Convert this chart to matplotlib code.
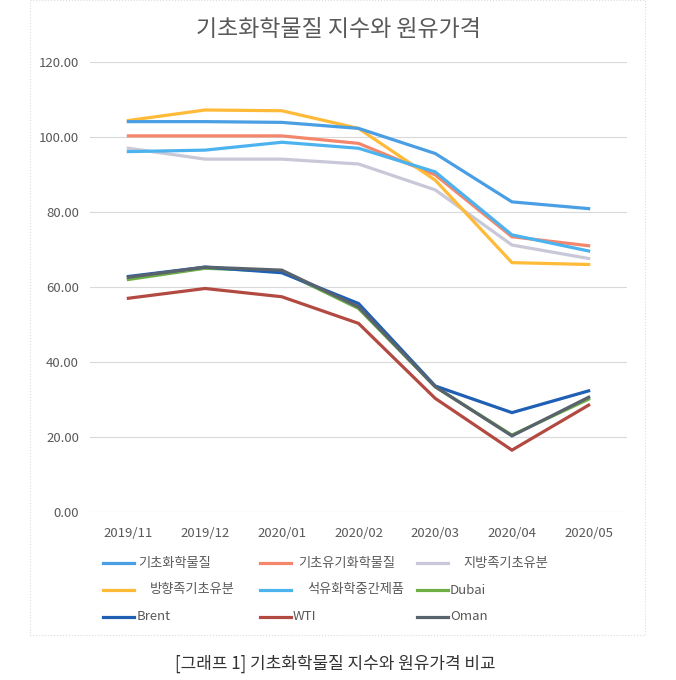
import matplotlib
matplotlib.use('Agg')
import matplotlib.pyplot as plt
import matplotlib.patches as mplpatches
from matplotlib.lines import Line2D

plt.rcParams['font.family'] = ['Noto Sans CJK KR', 'DejaVu Sans']

# data
months = ['2019/11', '2019/12', '2020/01', '2020/02', '2020/03', '2020/04', '2020/05']
basicChem = [104.1, 104.1, 103.9, 102.3, 95.6, 82.7, 80.9]
basicOrganic = [100.3, 100.3, 100.3, 98.3, 89.9, 73.4, 71.0]
aliphatic = [97.0, 94.1, 94.1, 92.8, 85.9, 71.2, 67.6]
aromatic = [104.4, 107.2, 107.0, 102.3, 88.5, 66.5, 66.0]
intermediate = [96.1, 96.5, 98.6, 97.0, 90.7, 73.9, 69.6]
dubai = [62.0, 65.0, 64.2, 54.3, 33.4, 20.5, 30.1]
brent = [62.8, 65.3, 63.8, 55.6, 33.6, 26.5, 32.3]
wti = [57.0, 59.6, 57.4, 50.3, 30.3, 16.5, 28.5]
oman = [62.6, 65.3, 64.5, 54.7, 33.4, 20.3, 30.6]
yTicks = [0, 20, 40, 60, 80, 100, 120]

seriesNames = ['기초화학물질', '기초유기화학물질', '지방족기초유분',
               '방향족기초유분', '석유화학중간제품', 'Dubai',
               'Brent', 'WTI', 'Oman']
seriesData = [basicChem, basicOrganic, aliphatic, aromatic, intermediate,
              dubai, brent, wti, oman]
seriesColors = ['#4a9ee4', '#f4866c', '#c8c8d8', '#ffba38', '#4cb3ef',
                '#6fae45', '#1f5fb4', '#b34a42', '#59636e']

figureWidth = 6.76
figureHeight = 6.80
fig = plt.figure(figsize=(figureWidth, figureHeight), dpi=100)

# light chart border
fig.patches.append(mplpatches.Rectangle((30/676, 45/680), 615/676, 635/680,
                                        transform=fig.transFigure, fill=False,
                                        edgecolor='#dcdcdc', linewidth=0.8,
                                        linestyle=':'))

ax = fig.add_axes([90/676, 168/680, 537/676, 450/680])
x = list(range(len(months)))

# drawing order so the crude lines overlap like the original
for i in [2, 1, 3, 4, 0, 5, 6, 8, 7]:
    ax.plot(x, seriesData[i], color=seriesColors[i], linewidth=2.3,
            solid_joinstyle='miter', zorder=3)

ax.set_xlim(-0.5, 6.5)
ax.set_ylim(0, 120)
ax.set_yticks(yTicks)
ax.set_yticklabels(['%.2f' % v for v in yTicks])
ax.set_xticks(x)
ax.set_xticklabels(months)
ax.grid(axis='y', color='#d9d9d9', linewidth=0.8, zorder=0)
for s in ax.spines.values():
    s.set_visible(False)
ax.tick_params(axis='both', length=0, labelsize=9.5, labelcolor='#595959')
ax.tick_params(axis='x', pad=11)
ax.tick_params(axis='y', pad=8)

fig.text(338/676, 1 - 30/680, '기초화학물질 지수와 원유가격', ha='center', va='center',
         fontsize=16.5, color='#595959')

# manual legend, row-major like Excel
lineStarts = [103, 260, 417]
textStarts = [[138, 298, 463], [150, 307, 450], [137, 293, 450]]
rowYs = [563, 590, 617]
for k in range(len(seriesNames)):
    r = k // 3
    c = k % 3
    yy = 1 - rowYs[r]/680
    fig.lines.append(Line2D([lineStarts[c]/676, (lineStarts[c] + 31)/676], [yy, yy],
                            transform=fig.transFigure, color=seriesColors[k],
                            linewidth=2.3))
    fig.text(textStarts[r][c]/676, yy, seriesNames[k], ha='left', va='center',
             fontsize=9.5, color='#595959')

fig.text(335/676, 1 - 664/680, '[그래프 1] 기초화학물질 지수와 원유가격 비교',
         ha='center', va='center', fontsize=12.2, color='#333333')

plt.savefig('out.png', dpi=100)
